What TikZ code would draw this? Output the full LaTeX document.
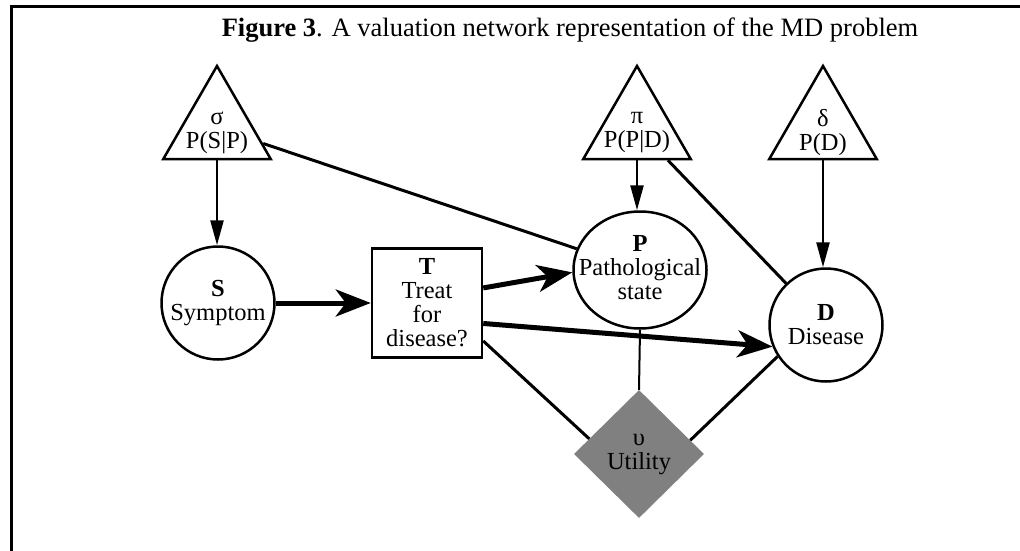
\documentclass[tikz,border=0pt]{standalone}
\usepackage{fontspec}
\setmainfont{Liberation Serif}
\usetikzlibrary{arrows.meta, shapes.geometric}

\begin{document}
\begin{tikzpicture}[
    x=1pt, y=-1pt,
    every node/.style={font=\fontsize{24.5}{24}\selectfont},
    potential/.style={
        regular polygon, regular polygon sides=3, draw, line width=2.5pt,
        minimum size=124pt, inner sep=0pt
    },
    chance/.style={
        circle, draw, line width=2.5pt, minimum size=113pt, inner sep=0pt,
        align=center
    },
    chanceoval/.style={
        ellipse, draw, line width=2.5pt, minimum width=133pt,
        minimum height=117pt, inner sep=0pt
    },
    decision/.style={
        rectangle, draw, line width=2.5pt, minimum width=110pt,
        minimum height=109pt, inner sep=0pt, align=center
    },
    utility/.style={
        diamond, fill=black!50, minimum width=130pt, minimum height=128pt,
        inner sep=0pt, align=center
    },
    txt/.style={align=center, inner sep=0pt},
    arr/.style={-{Triangle[length=25pt, width=13pt]}, line width=2.5pt},
    bigarr/.style={-{Stealth[length=35pt, width=27pt, inset=10pt]}, line width=5pt},
    link/.style={line width=3pt},
]
\useasboundingbox (0,0) rectangle (1020,551);

% Frame and title
\draw[line width=3pt] (1020,7) -- (11,7) -- (11,551);
\node[font=\fontsize{26.5}{28}\selectfont] (title) at (570,30)
    {\textbf{Figure 3}. A valuation network representation of the MD problem};

% Potentials (top row)
\node[potential] (sig) at (217,128) {};
\node[txt] (sigtxt) at (217,133) {σ\\P(S|P)};
\node[potential] (pi) at (637,128) {};
\node[txt] (pitxt) at (637,133) {π\\P(P|D)};
\node[potential] (del) at (823,128) {};
\node[txt] (deltxt) at (823,133) {δ\\P(D)};

% Variables
\node[chance] (S) at (218,303) {\textbf{S}\\Symptom};
\node[decision] (T) at (427,303) {\textbf{T}\\Treat\\for\\disease?};
\node[chanceoval] (P) at (640,270) {};
\node[txt] (Ptxt) at (640,268) {\textbf{P}\\Pathological\\state};
\node[chance] (D) at (826,325) {\textbf{D}\\Disease};

% Utility
\node[utility] (U) at (639,454) {υ\\Utility};

% ── Arrows ──
\draw[arr] (sig.side 2) -- (sig.side 2 |- S.north);
\draw[arr] (pi.side 2) -- (pi.side 2 |- P.north);
\draw[arr] (del.side 2) -- (del.side 2 |- D.north);
\draw[link] (sig) -- (P);
\draw[link] (pi) -- (D);

\draw[bigarr] (S) -- (T);
\draw[bigarr] (T.15) -- (P.182);
\draw[bigarr] (T.-20) -- (D.202);

\draw[link] (T.-34) -- (U.163);
\draw[link, line width=2pt] (P.south) -- (U.north);
\draw[link] (D.213) -- (U.15);

\end{tikzpicture}
\end{document}
